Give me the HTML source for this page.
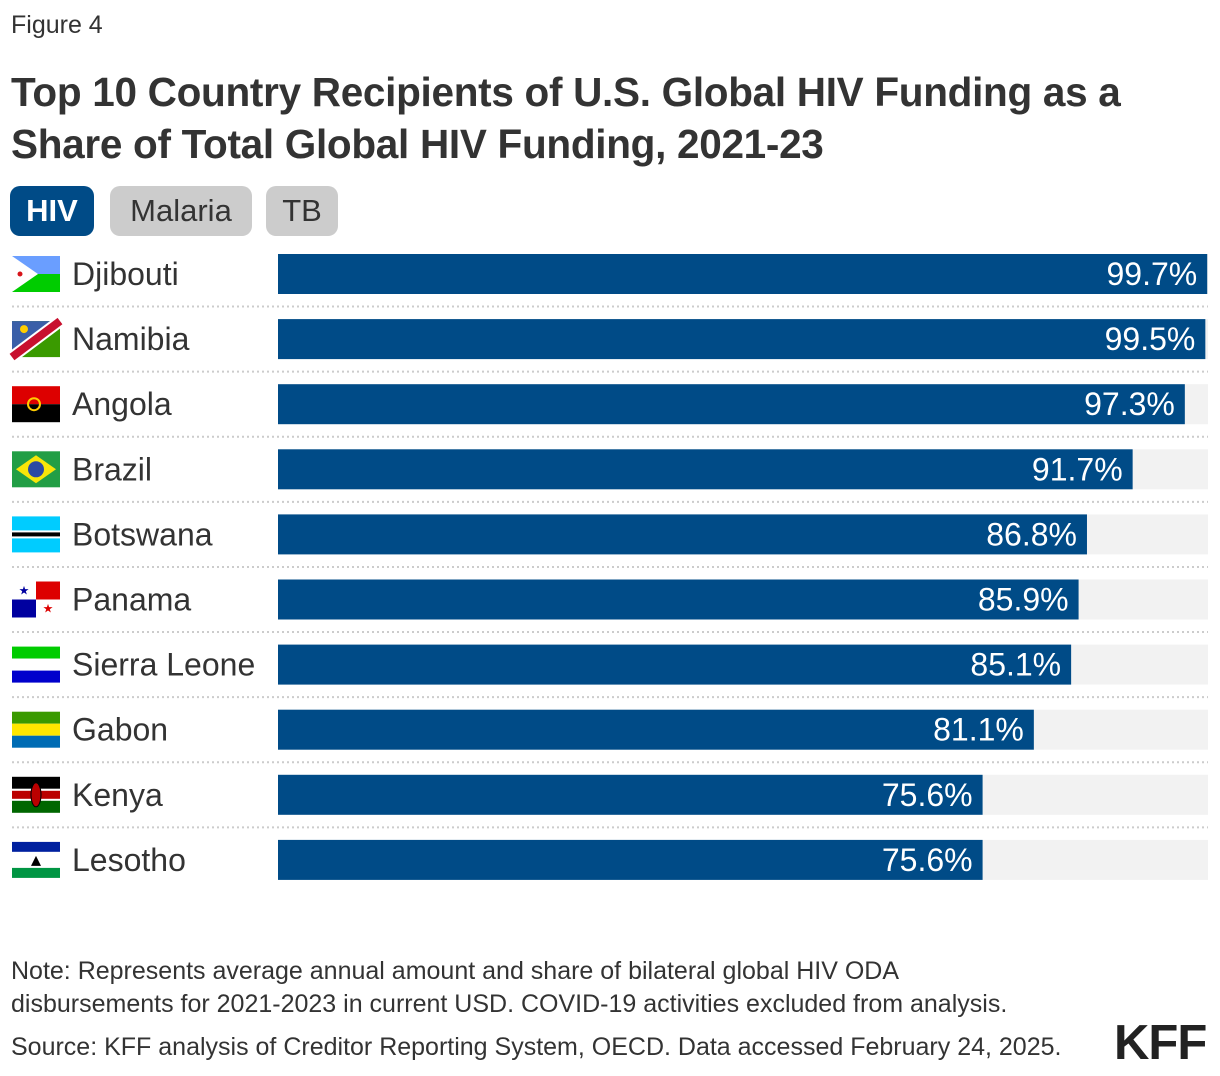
<!DOCTYPE html>
<html><head><meta charset="utf-8">
<style>
body{margin:0;background:#fff;font-family:"Liberation Sans",sans-serif;color:#333;}
#wrap{position:relative;width:1220px;height:1076px;overflow:hidden;}
.abs{position:absolute;}
.btn{position:absolute;top:186px;height:50px;border-radius:10px;font-size:31px;line-height:50px;text-align:center;}
</style></head><body>
<div id="wrap">
<div class="abs" style="left:11px;top:11px;font-size:25px;color:#333">Figure 4</div>
<div class="abs" style="left:11px;top:66px;font-size:40.5px;font-weight:bold;line-height:52px;color:#333;letter-spacing:-0.3px;white-space:nowrap">Top 10 Country Recipients of U.S. Global HIV Funding as a<br>Share of Total Global HIV Funding, 2021-23</div>
<div class="btn" style="left:10px;width:84px;background:#004b87;color:#fff;font-weight:bold">HIV</div>
<div class="btn" style="left:110px;width:142px;background:#cccccc;color:#333">Malaria</div>
<div class="btn" style="left:266px;width:72px;background:#cccccc;color:#333">TB</div>
<svg class="abs" style="left:0;top:0" width="1220" height="1076" id="chart"></svg>
<div class="abs" style="left:11px;top:955px;font-size:25px;line-height:33px;color:#333;white-space:nowrap">Note: Represents average annual amount and share of bilateral global HIV ODA<br>disbursements for 2021-2023 in current USD. COVID-19 activities excluded from analysis.</div>
<div class="abs" style="left:11px;top:1033px;font-size:25px;color:#333;white-space:nowrap">Source: KFF analysis of Creditor Reporting System, OECD. Data accessed February 24, 2025.</div>
<div class="abs" style="left:1114px;top:1015px;font-size:49px;font-weight:bold;color:#222;letter-spacing:-1px">KFF</div>
</div>
<script>
const countries=["Djibouti","Namibia","Angola","Brazil","Botswana","Panama","Sierra Leone","Gabon","Kenya","Lesotho"];
const values=[99.7,99.5,97.3,91.7,86.8,85.9,85.1,81.1,75.6,75.6];
const labels=["99.7%","99.5%","97.3%","91.7%","86.8%","85.9%","85.1%","81.1%","75.6%","75.6%"];
const NS="http://www.w3.org/2000/svg";
const svg=document.getElementById('chart');
const x0=278,x1=1210,y0=274,step=65.1,bh=40;
const xs=v=>x0+(x1-x0)*v/100;
const yc=i=>y0+i*step;
function mk(t,a,p){const e=document.createElementNS(NS,t);for(const k in a)e.setAttribute(k,a[k]);(p||svg).appendChild(e);return e;}
function flag(i,g){
 const x=12,y=yc(i)-18,w=48,h=36;const c=countries[i];
 const r=(xx,yy,ww,hh,f)=>mk('rect',{x:x+xx,y:y+yy,width:ww,height:hh,fill:f},g);
 if(c=="Djibouti"){r(0,0,w,18,'#6a9eff');r(0,18,w,18,'#00cc00');mk('polygon',{points:`${x},${y} ${x+26},${y+18} ${x},${y+36}`,fill:'#fff'},g);mk('circle',{cx:x+8,cy:y+18,r:2.5,fill:'#d7141a'},g);}
 else if(c=="Namibia"){r(0,0,w,h,'#3a9a00');mk('polygon',{points:`${x},${y} ${x+w},${y} ${x},${y+h}`,fill:'#3a5fa8'},g);mk('line',{x1:x,y1:y+h,x2:x+w,y2:y,stroke:'#fff',"stroke-width":12},g);mk('line',{x1:x,y1:y+h,x2:x+w,y2:y,stroke:'#c8102e',"stroke-width":8},g);mk('circle',{cx:x+12,cy:y+8,r:4,fill:'#ffce00'},g);}
 else if(c=="Angola"){r(0,0,w,18,'#d00');r(0,18,w,18,'#000');mk('circle',{cx:x+22,cy:y+18,r:6,fill:'none',stroke:'#fc0',"stroke-width":2},g);}
 else if(c=="Brazil"){r(0,0,w,h,'#229e45');mk('polygon',{points:`${x+4},${y+18} ${x+24},${y+4} ${x+44},${y+18} ${x+24},${y+32}`,fill:'#f8e509'},g);mk('circle',{cx:x+24,cy:y+18,r:8,fill:'#2b49a3'},g);}
 else if(c=="Botswana"){r(0,0,w,h,'#00ccff');r(0,14,w,8,'#fff');r(0,16,w,4,'#000');}
 else if(c=="Panama"){r(0,0,w,h,'#fff');r(24,0,24,18,'#d00');r(0,18,24,18,'#0000a0');mk('text',{x:x+12,y:y+13,"font-size":12,fill:'#0000a0',"text-anchor":"middle"},g).textContent='★';mk('text',{x:x+36,y:y+31,"font-size":12,fill:'#d00',"text-anchor":"middle"},g).textContent='★';}
 else if(c=="Sierra Leone"){r(0,0,w,12,'#00cc00');r(0,12,w,12,'#fff');r(0,24,w,12,'#0000cc');}
 else if(c=="Gabon"){r(0,0,w,12,'#3a9a00');r(0,12,w,12,'#ffe700');r(0,24,w,12,'#006cb4');}
 else if(c=="Kenya"){r(0,0,w,12,'#000');r(0,12,w,12,'#fff');r(0,14,w,8,'#b00');r(0,24,w,12,'#060');mk('ellipse',{cx:x+24,cy:y+18,rx:5,ry:12,fill:'#b00',stroke:'#000'},g);}
 else if(c=="Lesotho"){r(0,0,w,10,'#00209f');r(0,10,w,16,'#fff');r(0,26,w,10,'#009543');mk('polygon',{points:`${x+19},${y+24} ${x+24},${y+14} ${x+29},${y+24}`,fill:'#000'},g);}
}
values.forEach((v,i)=>{
 const g=mk('g',{});
 
 
 const fg=mk('g',{},g);
 
 
 flag(i,fg);
 const t=mk('text',{x:72,y:yc(i)+11,"font-size":32,fill:'#333'},g);t.textContent=countries[i];
 
 
 const bg=mk('rect',{x:x0,y:yc(i)-bh/2,width:1208-x0,height:bh,fill:'#f2f2f2'},g);
 
 
 const b=mk('rect',{x:x0,y:yc(i)-bh/2,width:Math.min(xs(v),1208)-x0,height:bh,fill:'#004b87'},g);
 
 
 const vl=mk('text',{x:xs(v)-10,y:yc(i)+11,"font-size":32,fill:'#fff',"text-anchor":"end"},g);vl.textContent=labels[i];
 
 
 if(i<values.length-1){const l=mk('line',{x1:12,x2:1208,y1:yc(i)+step/2,y2:yc(i)+step/2,stroke:'#ccc',"stroke-width":2,"stroke-dasharray":"2,3"},g);
 
 }
});
</script>
</body></html>
